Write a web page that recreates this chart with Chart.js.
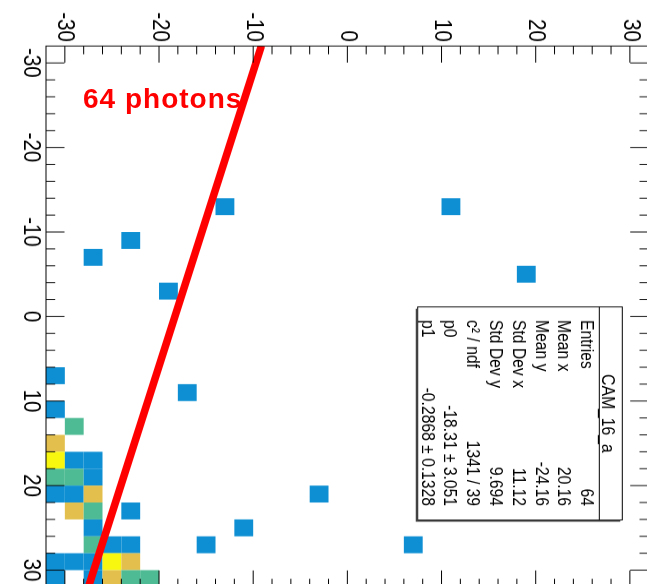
<!DOCTYPE html>
<html>
<head>
<meta charset="utf-8">
<script src="https://cdn.jsdelivr.net/npm/chart.js@4.4.0/dist/chart.umd.min.js"></script>
<style>
  body { margin: 0; width: 647px; height: 584px; overflow: hidden; background: #fff; position: relative; }
  /* the whole ROOT pad is shown turned a quarter clockwise and a bit squeezed */
  #plot { position: absolute; left: 0; top: 0; transform-origin: 0 0;
          transform: translate(667px, 0) rotate(90deg) scaleX(0.8957); }
  #note { position: absolute; left: 83px; top: 85px; color: #ff0000; white-space: nowrap;
          font: bold 28px "Liberation Sans", Arial, sans-serif; line-height: 28px; letter-spacing: 1px; }
</style>
</head>
<body>
<canvas id="plot" width="670" height="667"></canvas>
<div id="note">64 photons</div>
<script>
// filled bins (bin centres, 2x2 bins from -32 to 32), x / y of the histogram
const cellX = [-13, -13, -9, -7, -5, -3, 7, 9, 21, 25, 27, 27,
  11, 13, 15, 17, 17, 17, 19, 19, 19, 21, 21, 21, 23, 23, 23, 25,
  27, 27, 27, 29, 29, 29, 29, 29, 31, 31, 31, 31, 31];
const cellY = [-13, 11, -23, -27, 19, -19, -31, -17, -3, -11, -15, 7,
  -31, -29, -31, -31, -29, -27, -31, -29, -27, -31, -29, -27, -29, -27, -23, -27,
  -27, -25, -23, -31, -29, -27, -25, -23, -31, -27, -25, -23, -21];
const cellN = [1, 1, 1, 1, 1, 1, 1, 1, 1, 1, 1, 1,
  1, 2, 3, 4, 1, 1, 2, 2, 1, 1, 1, 3, 3, 2, 1, 1,
  2, 1, 1, 1, 1, 1, 4, 3, 1, 1, 3, 2, 2];
const binColors = ["#ffffff", "#0e8fd3", "#4fbb94", "#e3c04e", "#f8f70f"];

// fitted straight line, read at both ends of the x range
const fitX = [-32, 32];
const fitY = [-9.13, -27.49];

const tickValues = [-30, -20, -10, 0, 10, 20, 30];

const statsTitle = "CAM_16_a";
const statsNames = ["Entries", "Mean x", "Mean y", "Std Dev x", "Std Dev y", "c\u00b2 / ndf", "p0", "p1"];
const statsValues = ["64", "20.16", "-24.16", "11.12", "9.694", "1341 / 39", "-18.31 \u00b1 3.051", "-0.2868 \u00b1 0.1328"];

const fontFam = '"Liberation Sans", Arial, Helvetica, sans-serif';

const th2Plugin = {
  id: "th2",
  beforeDatasetsDraw(chart) {
    const { ctx, scales: { x, y } } = chart;
    ctx.save();
    for (let i = 0; i < cellX.length; i++) {
      const x0 = x.getPixelForValue(cellX[i] - 1), x1 = x.getPixelForValue(cellX[i] + 1);
      const y0 = y.getPixelForValue(cellY[i] + 1), y1 = y.getPixelForValue(cellY[i] - 1);
      ctx.fillStyle = binColors[cellN[i]];
      ctx.fillRect(x0, y0, x1 - x0, y1 - y0);
    }
    ctx.restore();
  },
  afterDatasetsDraw(chart) {
    const { ctx, chartArea: a, scales: { x, y } } = chart;
    ctx.save();
    ctx.strokeStyle = "#000";
    ctx.lineWidth = 1;
    ctx.strokeRect(a.left, a.top, a.right - a.left, a.bottom - a.top);

    // ROOT style ticks, inside the frame on all four sides
    ctx.beginPath();
    for (let v = -30; v <= 30; v += 2) {
      const len = v % 10 === 0 ? 18.5 : 9.2;
      const px = x.getPixelForValue(v);
      ctx.moveTo(px, a.bottom); ctx.lineTo(px, a.bottom - len);
      ctx.moveTo(px, a.top); ctx.lineTo(px, a.top + len);
      const py = y.getPixelForValue(v);
      ctx.moveTo(a.left, py); ctx.lineTo(a.left + len, py);
      ctx.moveTo(a.right, py); ctx.lineTo(a.right - len, py);
    }
    ctx.stroke();

    // stats box
    const l = 342.7, r = 580.5, t = 44.7, b = 249.3, sep = 67.7;
    ctx.fillStyle = "#fff";
    ctx.fillRect(l, t, r - l, b - t);
    ctx.strokeRect(l, t, r - l, b - t);
    ctx.strokeStyle = "#444";
    ctx.lineWidth = 2;
    ctx.beginPath();
    ctx.moveTo(l + 2, b + 1); ctx.lineTo(r + 1, b + 1); ctx.lineTo(r + 1, t + 2);
    ctx.stroke();
    ctx.strokeStyle = "#000";
    ctx.lineWidth = 1;
    ctx.beginPath();
    ctx.moveTo(l, sep); ctx.lineTo(r, sep);
    ctx.stroke();

    ctx.fillStyle = "#000";
    ctx.font = "17.5px " + fontFam;
    ctx.textBaseline = "alphabetic";
    ctx.textAlign = "center";
    ctx.fillText(statsTitle, (l + r) / 2, 58.3 + 6.3);
    for (let i = 0; i < statsNames.length; i++) {
      const yc = 79.4 + 22.8 * i + 6.3;
      ctx.textAlign = "left";
      ctx.fillText(statsNames[i], 357.3, yc);
      ctx.textAlign = "right";
      ctx.fillText(statsValues[i], 565, yc);
    }
    ctx.restore();
  }
};

const axisTicks = (pad) => ({
  font: { family: fontFam, size: 23 },
  color: "#000",
  padding: pad,
  maxRotation: 0,
  autoSkip: false
});

new Chart(document.getElementById("plot"), {
  type: "scatter",
  data: {
    datasets: [{
      data: fitX.map((v, i) => ({ x: v, y: fitY[i] })),
      showLine: true,
      borderColor: "#ff0000",
      borderWidth: 7.5,
      pointRadius: 0,
      clip: 0
    }]
  },
  options: {
    responsive: false,
    animation: false,
    events: [],
    layout: { padding: { left: 0, right: 14.6, top: 17, bottom: 0 } },
    plugins: { legend: { display: false }, tooltip: { enabled: false } },
    scales: {
      x: {
        type: "linear", min: -32, max: 32,
        afterBuildTicks: s => { s.ticks = tickValues.map(v => ({ value: v })); },
        afterFit: s => { s.height = 46; },
        grid: { display: false, drawTicks: false },
        border: { display: false },
        ticks: axisTicks(1.5)
      },
      y: {
        type: "linear", min: -32, max: 32,
        afterBuildTicks: s => { s.ticks = tickValues.map(v => ({ value: v })); },
        afterFit: s => { s.width = 51.4; },
        grid: { display: false, drawTicks: false },
        border: { display: false },
        ticks: axisTicks(4.5)
      }
    }
  },
  plugins: [th2Plugin]
});
</script>
</body>
</html>
